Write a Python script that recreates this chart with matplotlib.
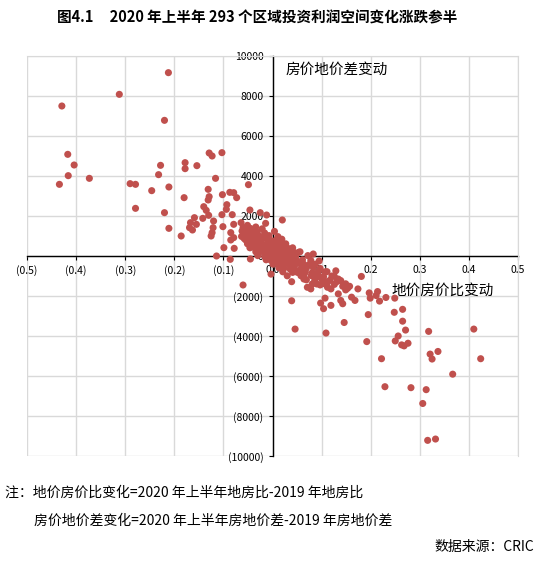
import numpy as np
import matplotlib
matplotlib.use("Agg")
import matplotlib.pyplot as plt

plt.rcParams['font.family'] = ['Noto Sans CJK SC', 'DejaVu Sans']

# scattered points, upper-left (land/house ratio fell, spread rose)
ul_x = [-0.429, -0.312, -0.212, -0.220, -0.417, -0.404, -0.416, -0.434, -0.373, -0.290,
        -0.279, -0.246, -0.279, -0.228, -0.232, -0.211, -0.220, -0.211, -0.178, -0.178,
        -0.154, -0.129, -0.123, -0.103, -0.116, -0.180, -0.186, -0.131, -0.129, -0.131,
        -0.102, -0.087, -0.079, -0.073, -0.049, -0.093, -0.094, -0.140, -0.135, -0.130,
        -0.103, -0.082, -0.046, -0.025, -0.159, -0.142, -0.167, -0.155, -0.169, -0.163,
        -0.120, -0.121, -0.123, -0.125, -0.101, -0.079, -0.064, -0.051, -0.052, -0.062,
        -0.085, -0.079, -0.085, -0.099, -0.078]
ul_y = [7500, 8083, 9167, 6783, 5083, 4550, 4017, 3583, 3883, 3617,
        3583, 3267, 2383, 4533, 4067, 3450, 2167, 1383, 4667, 4367,
        4517, 5150, 5000, 5167, 3883, 2917, 1000, 3333, 2967, 2800,
        3067, 3183, 3167, 2917, 3567, 2567, 2333, 2467, 2283, 2033,
        2067, 2067, 2300, 2167, 1917, 1883, 1667, 1583, 1417, 1300,
        1750, 1417, 1167, 1000, 1467, 1583, 1667, 1533, 1250, 1250,
        1167, 917, 800, 417, 383]

# scattered points, lower-right
lr_x = [0.039, 0.039, 0.046, 0.109, 0.104, 0.098, 0.107, 0.119, 0.146, 0.143,
        0.139, 0.134, 0.161, 0.168, 0.174, 0.181, 0.195, 0.192, 0.197, 0.199,
        0.214, 0.211, 0.218, 0.231, 0.249, 0.222, 0.229, 0.248, 0.265, 0.265,
        0.271, 0.256, 0.250, 0.263, 0.268, 0.276, 0.282, 0.313, 0.306, 0.316,
        0.332, 0.318, 0.321, 0.325, 0.337, 0.367, 0.410, 0.424,
        0.071, 0.078, 0.090, 0.097, 0.112, 0.119, 0.129, 0.126, 0.134, 0.131,
        0.143, 0.153, 0.149, 0.157, 0.112, 0.105, 0.098, 0.092, 0.064, 0.058,
        0.051, 0.036, 0.095]
lr_y = [-1284, -2239, -3654, -3852, -2634, -2354, -2107, -2469, -3325, -2387,
        -2222, -1893, -2058, -2222, -1646, -1021, -2930, -4280, -1844, -2107,
        -1778, -1975, -2255, -2074, -2107, -5136, -6535, -2815, -2667, -3259,
        -3704, -4000, -4247, -4444, -4494, -4362, -6584, -6683, -7374, -9218,
        -9152, -3769, -4905, -5152, -4773, -5909, -3654, -5136,
        -1564, -1646, -1399, -1448, -1564, -1646, -741, -1021, -1152, -1284,
        -1514, -1613, -1695, -1514, -1317, -1235, -1070, -905, -1152, -988,
        -823, -658, -247]

# loose points around the origin
mid_x = [-0.012, -0.014, 0.020, -0.058, -0.114, -0.086, -0.060, -0.045, 0.111, 0.083,
         0.053, 0.046, -0.003]
mid_y = [2050, 1633, 1800, 883, 0, -167, -1450, -150, -783, 100,
         183, -83, -905]

# dense cluster near the origin
core_x = [-0.060, -0.045, -0.034, -0.021,
          -0.057, -0.049, -0.039, -0.031, -0.016, 0.004,
          -0.063, -0.053, -0.043, -0.037, -0.027, -0.019, -0.007, 0.011,
          -0.055, -0.047, -0.038, -0.029, -0.023, -0.011, -0.003, 0.007, 0.019,
          -0.051, -0.041, -0.031, -0.025, -0.015, -0.009, 0.001, 0.009, 0.017, 0.027,
          -0.046, -0.035, -0.029, -0.019, -0.013, -0.005, 0.005, 0.013, 0.021, 0.031, 0.041,
          -0.034, -0.027, -0.017, -0.011, -0.001, 0.007, 0.015, 0.023, 0.033, 0.043, 0.056,
          -0.030, -0.016, -0.005, 0.003, 0.011, 0.019, 0.027, 0.035, 0.047, 0.072,
          -0.013, -0.003, 0.005, 0.013, 0.021, 0.029, 0.037, 0.049, 0.061, 0.078,
          0.001, 0.011, 0.019, 0.031, 0.039, 0.051, 0.063, 0.074, 0.087,
          0.013, 0.023, 0.037, 0.045, 0.059, 0.069, 0.083, 0.097,
          0.021, 0.041, 0.054, 0.067, 0.081, 0.093, 0.107,
          0.030, 0.064, 0.079, 0.089, 0.104, 0.121,
          0.069, 0.086, 0.101, 0.117, 0.139,
          0.081, 0.104, 0.126, 0.149]
core_y = [1420, 1380, 1450, 1360,
          1210, 1170, 1240, 1190, 1150, 1230,
          980, 1030, 960, 1010, 990, 940, 1020, 970,
          810, 780, 830, 760, 800, 820, 770, 790, 840,
          610, 580, 630, 600, 560, 620, 590, 640, 570, 610,
          410, 380, 430, 390, 370, 420, 400, 360, 430, 390, 410,
          210, 180, 230, 190, 170, 220, 200, 160, 230, 190, 210,
          20, -10, 30, -20, 10, -30, 40, 0, -10, 20,
          -190, -220, -170, -230, -200, -180, -210, -240, -190, -220,
          -410, -380, -430, -390, -420, -370, -400, -440, -410,
          -590, -620, -580, -630, -600, -610, -570, -620,
          -790, -820, -780, -810, -830, -800, -790,
          -990, -1020, -980, -1010, -1030, -1000,
          -1190, -1220, -1180, -1210, -1230,
          -1400, -1380, -1420, -1390]

x_ticks = [-0.5, -0.4, -0.3, -0.2, -0.1, 0.0, 0.1, 0.2, 0.3, 0.4, 0.5]
y_ticks = [-10000, -8000, -6000, -4000, -2000, 0, 2000, 4000, 6000, 8000, 10000]

xs = ul_x + lr_x + mid_x + core_x
ys = ul_y + lr_y + mid_y + core_y

W, H = 539, 569
fig = plt.figure(figsize=(W / 100, H / 100), dpi=100)
ax = fig.add_axes([27 / W, 1 - 456 / H, 491 / W, 400 / H])

ax.scatter(xs, ys, s=26, color='#C0504D', edgecolors='none', zorder=3)

ax.set_xlim(-0.5, 0.5)
ax.set_ylim(-10000, 10000)

def xlab(v):
    return "({:.1f})".format(abs(v)) if v < -1e-9 else "{:.1f}".format(v)

def ylab(v):
    return "({:d})".format(abs(v)) if v < 0 else "{:d}".format(v)

ax.set_xticks(x_ticks, [xlab(v) for v in x_ticks])
ax.set_yticks(y_ticks, [ylab(v) for v in y_ticks])
for lbl, v in zip(ax.get_xticklabels(), x_ticks):
    lbl.set_color('#FF0000' if v < -1e-9 else '#595959')
for lbl, v in zip(ax.get_yticklabels(), y_ticks):
    lbl.set_color('#FF0000' if v < 0 else '#595959')
ax.tick_params(axis='both', labelsize=7.5, length=3, width=0.8, color='black')
for lbl in ax.get_xticklabels() + ax.get_yticklabels():
    lbl.set_family('DejaVu Sans')

ax.grid(True, color='#D9D9D9', linewidth=1.0, zorder=0)
ax.set_axisbelow(True)

ax.spines['left'].set_position(('data', 0))
ax.spines['bottom'].set_position(('data', 0))
for s in ['left', 'bottom']:
    ax.spines[s].set_color('black')
    ax.spines[s].set_linewidth(1.0)
    ax.spines[s].set_zorder(2)
for s in ['top', 'right']:
    ax.spines[s].set_color('#D9D9D9')

fig.text(257 / W, 1 - 17 / H, "图4.1     2020 年上半年 293 个区域投资利润空间变化涨跌参半",
         ha='center', va='center', fontsize=10.5, fontweight='bold')
fig.text(285 / W, 1 - 70 / H, "房价地价差变动", ha='left', va='center', fontsize=10.5)
fig.text(391 / W, 1 - 291 / H, "地价房价比变动", ha='left', va='center', fontsize=10.5)

fig.text(5 / W, 1 - 493 / H, "注：地价房价比变化=2020 年上半年地房比-2019 年地房比",
         ha='left', va='center', fontsize=10)
fig.text(34 / W, 1 - 521 / H, "房价地价差变化=2020 年上半年房地价差-2019 年房地价差",
         ha='left', va='center', fontsize=10)
fig.text(534 / W, 1 - 547 / H, "数据来源：CRIC", ha='right', va='center', fontsize=10)

fig.savefig('out.png', dpi=100)
